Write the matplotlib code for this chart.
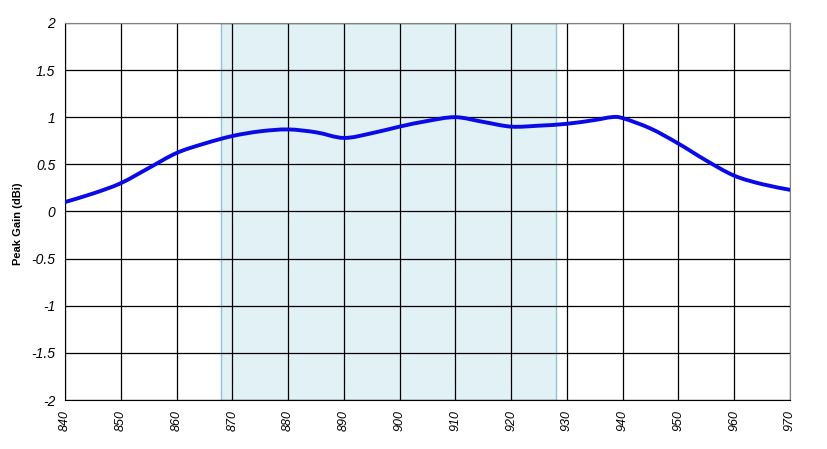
import numpy as np
import matplotlib
matplotlib.use('Agg')
import matplotlib.pyplot as plt
from matplotlib.path import Path
from matplotlib.patches import PathPatch

plt.rcParams['font.family'] = ['Liberation Sans', 'DejaVu Sans']

# frequency (MHz) and peak gain (dBi)
freq = [840, 845, 850, 855, 860, 865, 870, 875, 880, 885, 890, 895, 900,
        905, 910, 915, 920, 925, 930, 935, 938, 940, 945, 950, 955, 960, 965, 970]
gain = [0.10, 0.19, 0.30, 0.46, 0.62, 0.72, 0.80, 0.85, 0.87, 0.84, 0.78, 0.83, 0.90,
        0.96, 1.00, 0.95, 0.90, 0.91, 0.93, 0.97, 1.00, 0.99, 0.88, 0.72, 0.54, 0.38, 0.29, 0.23]
band = (868, 928)
xticks = list(range(840, 971, 10))
yticks = [-2, -1.5, -1, -0.5, 0, 0.5, 1, 1.5, 2]


def smooth_path(x, y, t=1.0 / 6):
    # Catmull-Rom style bezier through the points (like a spreadsheet smoothed line)
    pts = np.column_stack([x, y]).astype(float)
    verts = [pts[0]]
    codes = [Path.MOVETO]
    n = len(pts)
    for i in range(n - 1):
        p0 = pts[max(i - 1, 0)]
        p1 = pts[i]
        p2 = pts[i + 1]
        p3 = pts[min(i + 2, n - 1)]
        c1 = p1 + (p2 - p0) * t
        c2 = p2 - (p3 - p1) * t
        verts += [c1, c2, p2]
        codes += [Path.CURVE4] * 3
    return Path(verts, codes)


fig = plt.figure(figsize=(8.27, 4.49), dpi=100)
ax = fig.add_axes([0.0786, 0.109, 0.8766, 0.840])

ax.axvspan(band[0], band[1], facecolor='#e2f1f6', edgecolor='#8fc3d8', linewidth=1, zorder=0)
ax.grid(True, color='black', linewidth=0.9, zorder=0.5)
ax.set_axisbelow(True)

ax.add_patch(PathPatch(smooth_path(freq, gain), facecolor='none', edgecolor='#0a0ae6',
                       linewidth=2.8, zorder=3, capstyle='round'))

ax.set_xlim(840, 970)
ax.set_ylim(-2, 2)
ax.set_xticks(xticks)
ax.set_yticks(yticks)
ax.set_xticklabels([str(v) for v in xticks], rotation=90, fontsize=9, style='italic')
ax.set_yticklabels([f'{v:g}' for v in yticks], fontsize=10, style='italic')
ax.tick_params(length=0, pad=7)
ax.set_ylabel('Peak Gain (dBi)', fontsize=8, fontweight='bold')
ax.yaxis.set_label_coords(-0.058, 0.467)

for s in ['left', 'bottom']:
    ax.spines[s].set_color('black')
for s in ['top', 'right']:
    ax.spines[s].set_color('#808080')

fig.savefig('out.png', dpi=100)
